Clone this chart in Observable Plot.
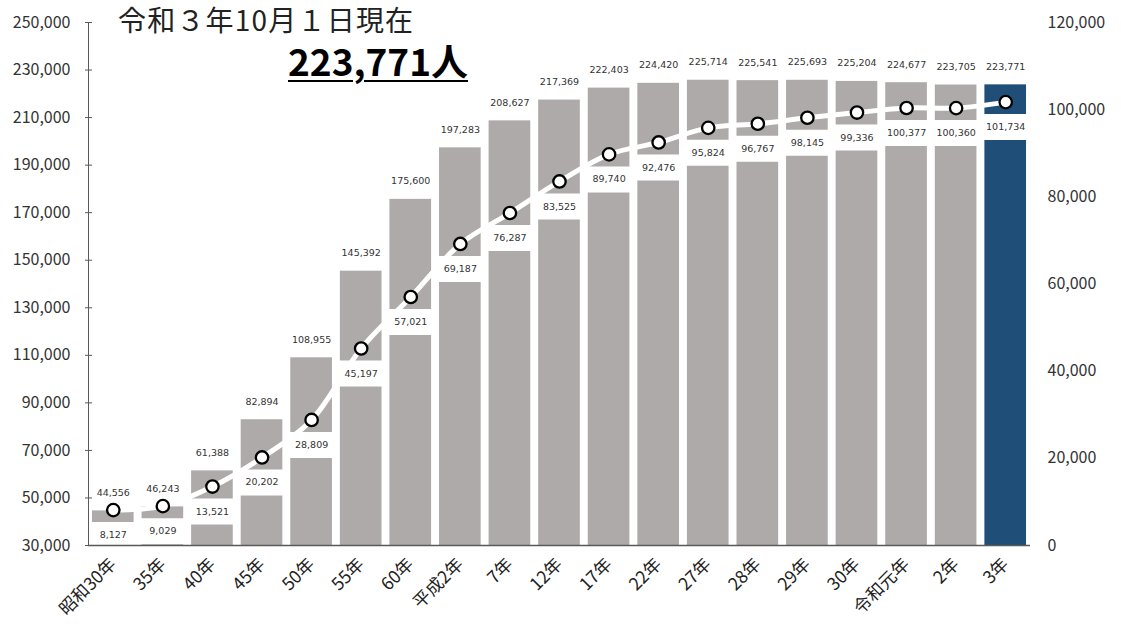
<!DOCTYPE html>
<html>
<head>
<meta charset="utf-8">
<script src="https://cdn.jsdelivr.net/npm/d3@7"></script>
<script src="https://cdn.jsdelivr.net/npm/@observablehq/plot@0.6"></script>
<style>
  html, body { margin: 0; padding: 0; background: #fff; }
  #wrap { position: relative; width: 1121px; height: 628px; overflow: hidden; }
  #t1 { position: absolute; left: 118px; top: -1px; font-family: "Noto Sans CJK JP", sans-serif; font-size: 28px; color: #222; white-space: nowrap; letter-spacing: 1.2px; }
  #t2 { position: absolute; left: 288px; top: 33px; font-family: "Noto Sans CJK JP", sans-serif; font-size: 37px; font-weight: bold; color: #000; text-decoration: underline; text-decoration-thickness: 2px; text-underline-offset: 4px; white-space: nowrap; }
</style>
</head>
<body>
<div id="wrap">
  <div id="chart"></div>
  <div id="t1">令和３年10月１日現在</div>
  <div id="t2">223,771人</div>
</div>
<script>
const categories = ["昭和30年","35年","40年","45年","50年","55年","60年","平成2年","7年","12年","17年","22年","27年","28年","29年","30年","令和元年","2年","3年"];
const population = [44556,46243,61388,82894,108955,145392,175600,197283,208627,217369,222403,224420,225714,225541,225693,225204,224677,223705,223771];
const households = [8127,9029,13521,20202,28809,45197,57021,69187,76287,83525,89740,92476,95824,96767,98145,99336,100377,100360,101734];
const leftTicks = [30000,50000,70000,90000,110000,130000,150000,170000,190000,210000,230000,250000];
const rightTicks = [0,20000,40000,60000,80000,100000,120000];
const highlight = "3年";

const leftMin = 30000, leftMax = 250000, rightMax = 120000;
const toLeft = h => leftMin + h * (leftMax - leftMin) / rightMax;
const fromLeft = v => (v - leftMin) * rightMax / (leftMax - leftMin);
const fmt = d3.format(",");

const data = categories.map((c, i) => ({cat: c, pop: population[i], hh: households[i], hhL: toLeft(households[i])}));

const gray = "#AEAAAA", blue = "#1F4E79";
const chart = Plot.plot({
  width: 1121,
  height: 628,
  marginLeft: 88,
  marginRight: 91,
  marginTop: 22,
  marginBottom: 83,
  style: {fontFamily: "'Noto Sans CJK JP', 'Noto Sans', sans-serif", background: "#fff"},
  x: {type: "band", domain: categories, paddingInner: 0.16, paddingOuter: 0.08, round: false, align: 0.5},
  y: {domain: [leftMin, leftMax]},
  marks: [
    Plot.barY(data, {x: "cat", y1: leftMin, y2: "pop", fill: d => d.cat === highlight ? blue : gray}),
    Plot.tickY(data, {x: "cat", y: "hhL", dy: 25, stroke: "white", strokeWidth: 26, insetLeft: -3, insetRight: -3}),
    Plot.line(data, {x: "cat", y: "hhL", stroke: "white", strokeWidth: 5, curve: "catmull-rom"}),
    Plot.dot(data, {x: "cat", y: "hhL", r: 6.2, fill: "white", stroke: "black", strokeWidth: 2.3}),
    Plot.text(data, {x: "cat", y: "pop", dy: -18, text: d => fmt(d.pop), fontSize: 9.5, fill: "#333", fontFamily: "DejaVu Sans"}),
    Plot.text(data, {x: "cat", y: "hhL", dy: 25, text: d => fmt(d.hh), fontSize: 9.5, fill: "#333", fontFamily: "DejaVu Sans"}),
    Plot.axisY({anchor: "left", ticks: leftTicks, tickFormat: fmt, tickSize: 7, dx: 4, tickPadding: 15, fontSize: 16, color: "#333", stroke: "#595959", label: null}),
    Plot.axisY({anchor: "right", ticks: rightTicks.map(toLeft), tickFormat: v => fmt(Math.round(fromLeft(v))), tickSize: 0, tickPadding: 17, fontSize: 16, color: "#333", label: null}),
    Plot.axisX({anchor: "bottom", tickSize: 0, tickPadding: 16, tickRotate: -45, fontSize: 17.5, color: "#222", label: null}),
    Plot.frame({anchor: "left", stroke: "#595959"}),
    Plot.ruleY([leftMin], {stroke: "#595959", strokeWidth: 1.3})
  ]
});
document.getElementById("chart").appendChild(chart);
</script>
</body>
</html>
